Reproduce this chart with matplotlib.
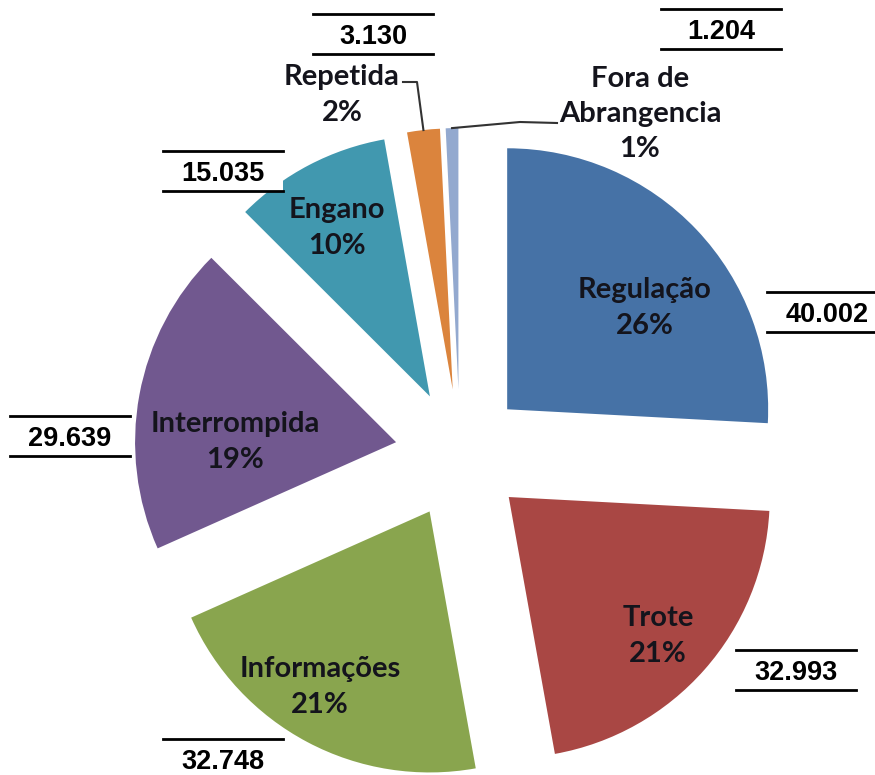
import numpy as np
import matplotlib
matplotlib.use('Agg')
import matplotlib.pyplot as plt
from matplotlib.patches import Rectangle

# data
categorias = ['Regulação', 'Trote', 'Informações', 'Interrompida',
              'Engano', 'Repetida', 'Fora de\nAbrangencia']
valores = [40002, 32993, 32748, 29639, 15035, 3130, 1204]
cores = ['#4672A6', '#A94744', '#89A54E', '#71588F',
         '#4198AF', '#DB843D', '#93A9CF']

# layout (pixels from top-left of the 875x775 picture)
W, H = 875, 775
cx, cy = 460, 454
raio = 261
afast = 65
pos_rotulo = [(645, 308), (658, 636), (320, 687), (235, 442),
              (337, 228), (342, 95), (640, 114)]
pos_caixa = [(827, 312), (796, 670), (223, 759), (70, 436),
             (223, 171), (373, 34), (721, 29)]
cotovelo = {5: [(417, 82), (403, 82)], 6: [(520, 122), (557, 123)]}

fonte_rot = 'Lato'
fonte_val = 'Liberation Sans'
cor_txt = '#14141c'


def py(y):
    return H - y


fig = plt.figure(figsize=(8.75, 7.75), dpi=100)
ax = fig.add_axes([0, 0, 1, 1])

wedges, _ = ax.pie(valores, colors=cores, startangle=90, counterclock=False,
                   radius=raio, center=(cx, py(cy)),
                   explode=[afast] * len(valores),
                   wedgeprops=dict(linewidth=0))
ax.set_xlim(0, W)
ax.set_ylim(0, H)
ax.set_aspect('equal')
ax.axis('off')

total = sum(valores)
for i, (nome, v) in enumerate(zip(categorias, valores)):
    pct = '{:.0f}%'.format(100.0 * v / total)
    x, y = pos_rotulo[i]
    ax.text(x, py(y), nome + '\n' + pct, ha='center', va='center',
            fontsize=21, fontweight='bold', family=fonte_rot, color=cor_txt,
            linespacing=1.45, zorder=5)

    # caixa com o valor absoluto
    bx, by = pos_caixa[i]
    ax.add_patch(Rectangle((bx - 60, py(by) - 20), 120, 40, facecolor='white',
                           edgecolor='none', zorder=3))
    ax.plot([bx - 60, bx + 60], [py(by) + 20, py(by) + 20], color='black', lw=2, zorder=4)
    ax.plot([bx - 60, bx + 60], [py(by) - 20, py(by) - 20], color='black', lw=2, zorder=4)
    ax.text(bx, py(by + 3), '{:,}'.format(v).replace(',', '.'), ha='center', va='center',
            fontsize=19.5, fontweight='bold', family=fonte_val, color='black', zorder=5)

# linhas de chamada das fatias pequenas
for i, pts in cotovelo.items():
    w = wedges[i]
    tm = np.deg2rad(0.5 * (w.theta1 + w.theta2))
    x0 = w.center[0] + w.r * np.cos(tm)
    y0 = w.center[1] + w.r * np.sin(tm)
    xs = [x0] + [p[0] for p in pts]
    ys = [y0] + [py(p[1]) for p in pts]
    ax.plot(xs, ys, color='#333333', lw=1.5, zorder=4)

plt.savefig('out.png', dpi=100)
